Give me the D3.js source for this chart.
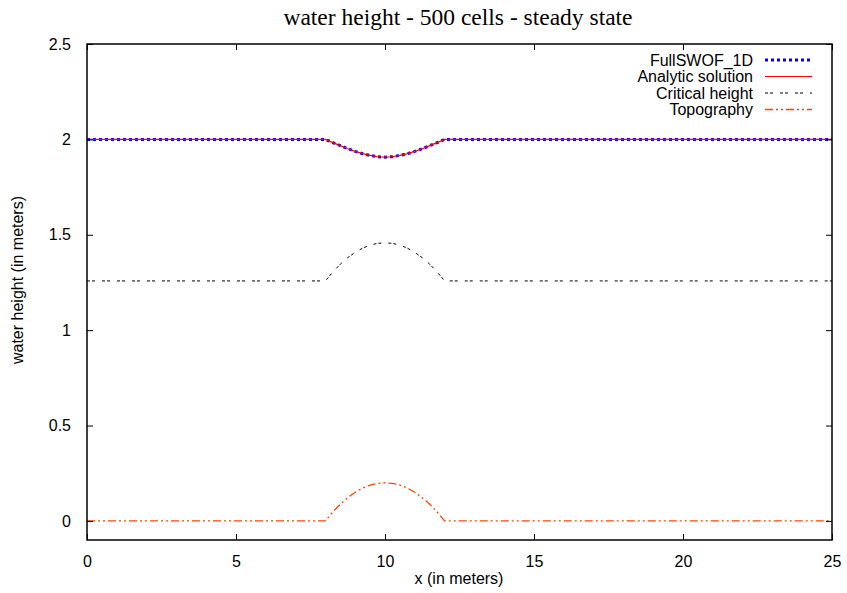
<!DOCTYPE html>
<html>
<head>
<meta charset="utf-8">
<script src="https://cdn.jsdelivr.net/npm/d3@7"></script>
<style>
  body { margin: 0; background: #fff; }
  text { font-family: "Liberation Sans", Arial, sans-serif; }
</style>
</head>
<body>
<svg width="847" height="593"></svg>
<script>
// x positions (m)
const X_VALUES = [0, 8, 8.25, 8.5, 8.75, 9, 9.25, 9.5, 9.75, 10, 10.25, 10.5, 10.75, 11, 11.25, 11.5, 11.75, 12, 25];
// water surface, simulated and analytic overlap
const FULLSWOF = [2, 2, 1.983, 1.967, 1.951, 1.937, 1.925, 1.916, 1.909, 1.907, 1.909, 1.916, 1.925, 1.937, 1.951, 1.967, 1.983, 2, 2];
const ANALYTIC = [2, 2, 1.983, 1.967, 1.951, 1.937, 1.925, 1.916, 1.909, 1.907, 1.909, 1.916, 1.925, 1.937, 1.951, 1.967, 1.983, 2, 2];
const CRITICAL = [1.258, 1.258, 1.305, 1.346, 1.38, 1.408, 1.43, 1.446, 1.455, 1.458, 1.455, 1.446, 1.43, 1.408, 1.38, 1.346, 1.305, 1.258, 1.258];
const TOPO = [0, 0, 0.047, 0.088, 0.122, 0.15, 0.172, 0.188, 0.197, 0.2, 0.197, 0.188, 0.172, 0.15, 0.122, 0.088, 0.047, 0, 0];

const X_TICKS = [0, 5, 10, 15, 20, 25];
const Y_TICKS = [0, 0.5, 1, 1.5, 2, 2.5];

const series = [
  { name: "FullSWOF_1D", values: FULLSWOF, color: "#0000ff", width: 3, dash: "3,3" },
  { name: "Analytic solution", values: ANALYTIC, color: "#ff0000", width: 1.2, dash: null },
  { name: "Critical height", values: CRITICAL, color: "#000000", width: 1, dash: "3,2,3,7" },
  { name: "Topography", values: TOPO, color: "#ff4500", width: 1.3, dash: "8,3,2,3,2,3" },
];

const plotLeft = 87, plotRight = 832, plotTop = 44, plotBottom = 540;

const x = d3.scaleLinear().domain([0, 25]).range([plotLeft, plotRight]);
const y = d3.scaleLinear().domain([-0.1, 2.5]).range([plotBottom, plotTop]);

const svg = d3.select("svg");

// curves
const line = d3.line().x((d, i) => x(X_VALUES[i])).y(d => y(d));
svg.append("g").selectAll("path")
  .data(series)
  .join("path")
  .attr("d", d => line(d.values))
  .attr("fill", "none")
  .attr("stroke", d => d.color)
  .attr("stroke-width", d => d.width)
  .attr("stroke-dasharray", d => d.dash);

// axes: ticks inward, mirrored
const tickLen = 6;
svg.append("g").attr("transform", `translate(0,${plotBottom})`)
  .call(d3.axisBottom(x).tickValues(X_TICKS).tickSizeInner(-tickLen).tickSizeOuter(0).tickPadding(16).tickFormat(d3.format("")));
svg.append("g").attr("transform", `translate(0,${plotTop})`)
  .call(d3.axisTop(x).tickValues(X_TICKS).tickSizeInner(-tickLen).tickSizeOuter(0).tickFormat(""));
svg.append("g").attr("transform", `translate(${plotLeft},0)`)
  .call(d3.axisLeft(y).tickValues(Y_TICKS).tickSizeInner(-tickLen).tickSizeOuter(0).tickPadding(16).tickFormat(d3.format("")));
svg.append("g").attr("transform", `translate(${plotRight},0)`)
  .call(d3.axisRight(y).tickValues(Y_TICKS).tickSizeInner(-tickLen).tickSizeOuter(0).tickFormat(""));

svg.selectAll(".domain").remove();
svg.selectAll(".tick line").attr("stroke", "#000").attr("stroke-width", 1);
svg.selectAll(".tick text").attr("font-size", 16).attr("fill", "#000");

svg.append("rect")
  .attr("x", plotLeft).attr("y", plotTop)
  .attr("width", plotRight - plotLeft).attr("height", plotBottom - plotTop)
  .attr("fill", "none").attr("stroke", "#000").attr("stroke-width", 1.5);

// legend
const legend = svg.append("g").selectAll("g")
  .data(series)
  .join("g")
  .attr("transform", (d, i) => `translate(0,${60 + i * 16.5})`);
legend.append("text")
  .attr("x", 753).attr("y", 5.5)
  .attr("text-anchor", "end")
  .attr("font-size", 16)
  .text(d => d.name);
legend.append("line")
  .attr("x1", 765).attr("x2", 812)
  .attr("stroke", d => d.color)
  .attr("stroke-width", d => d.width)
  .attr("stroke-dasharray", d => d.dash);

// title and labels
svg.append("text")
  .attr("x", 458).attr("y", 25)
  .attr("text-anchor", "middle")
  .style("font-family", "'Liberation Serif', 'Times New Roman', serif")
  .attr("font-size", 23.5)
  .text("water height - 500 cells - steady state");
svg.append("text")
  .attr("x", 459).attr("y", 584)
  .attr("text-anchor", "middle")
  .attr("font-size", 16)
  .text("x (in meters)");
svg.append("text")
  .attr("transform", "translate(23,280) rotate(-90)")
  .attr("text-anchor", "middle")
  .attr("font-size", 16)
  .text("water height (in meters)");
</script>
</body>
</html>
